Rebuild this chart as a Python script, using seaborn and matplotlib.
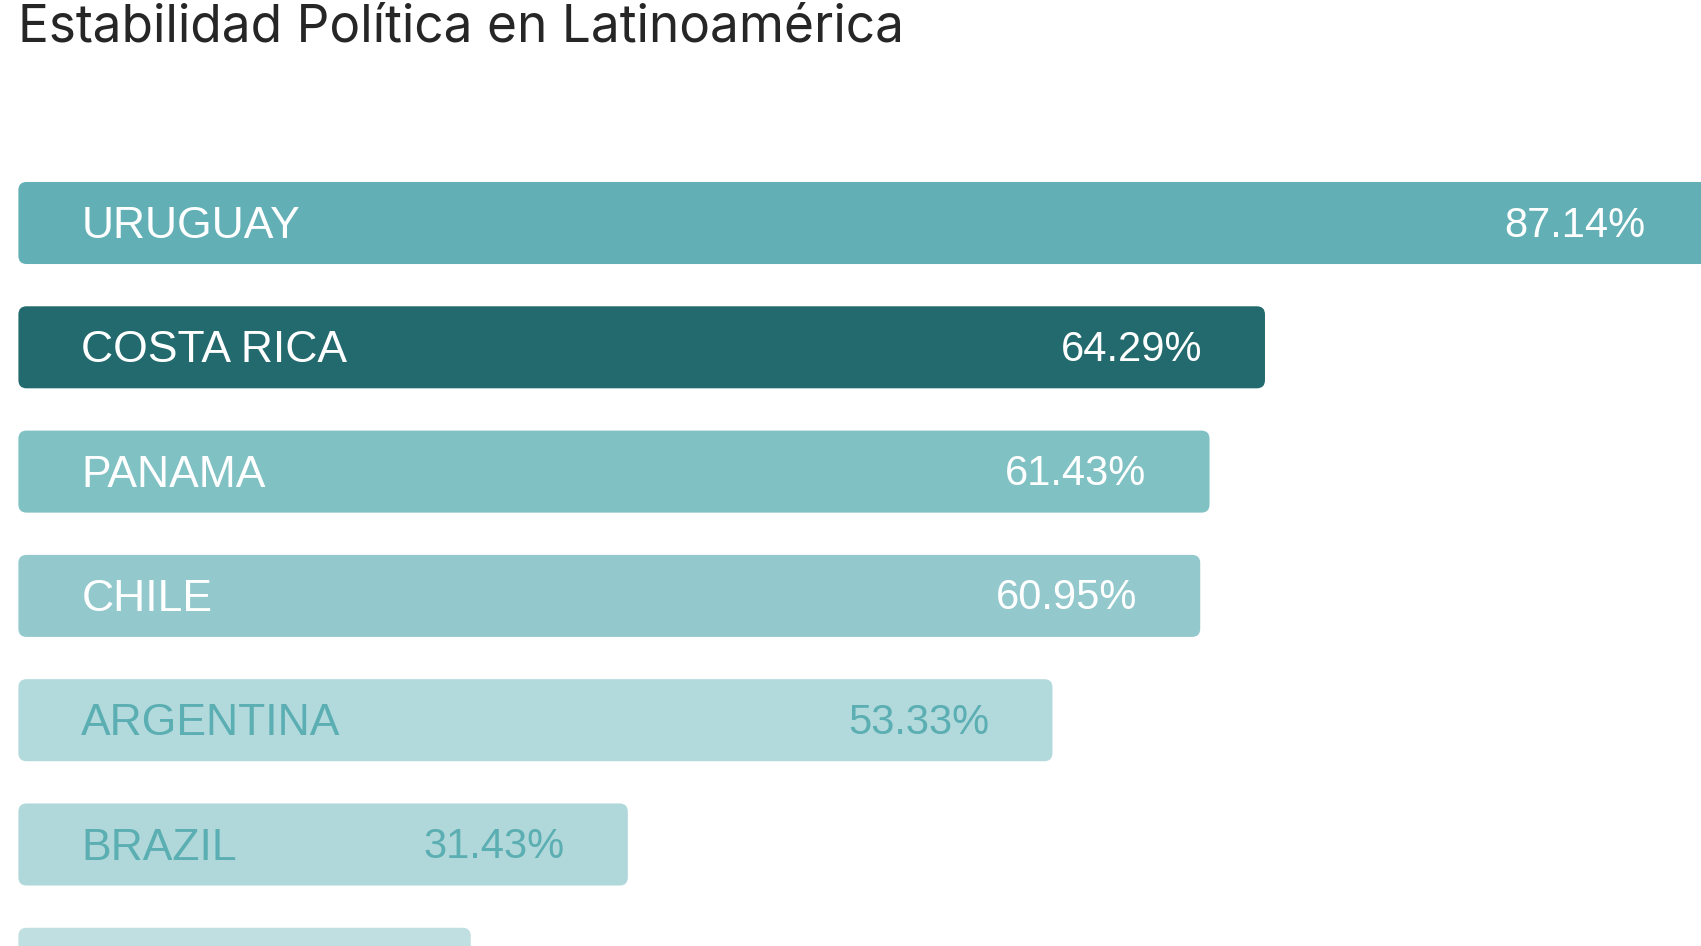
import matplotlib
matplotlib.use("Agg")
import matplotlib.pyplot as plt
import seaborn as sns
import pandas as pd
from matplotlib.patches import FancyBboxPatch

# ---- data ----
title = "Estabilidad Política en Latinoamérica"
countries = ["URUGUAY", "COSTA RICA", "PANAMA", "CHILE", "ARGENTINA", "BRAZIL", "PERU"]
values = [87.14, 64.29, 61.43, 60.95, 53.33, 31.43, 23.33]
bar_colors = ["#62B0B5", "#226A6D", "#80C1C3", "#93C9CC", "#B2DADD", "#B0D8DA", "#C0DFE1"]
text_colors = ["#FFFFFF", "#FFFFFF", "#FFFFFF", "#FFFFFF", "#5BAEB2", "#5BAEB2", "#5BAEB2"]

sns.set_theme(style="white")
plt.rcParams['font.family'] = ['Liberation Sans', 'DejaVu Sans']

df = pd.DataFrame({"country": countries, "value": values})

W, H = 1701, 946
fig = plt.figure(figsize=(W / 100, H / 100), dpi=100)
ax = fig.add_axes([0, 0, 1, 1])

sns.barplot(data=df, x="value", y="country", hue="country",
            palette=dict(zip(countries, bar_colors)), width=0.66,
            saturation=1, legend=False, orient="h", ax=ax)

# geometry (pixels -> data)
px_per_x = 19.39
x0_px = 18.4
pitch = 124.3
first_center_px = 223.0
ax.set_xlim(-x0_px / px_per_x, (W - x0_px) / px_per_x)
ax.set_ylim((H - first_center_px) / pitch, -first_center_px / pitch)
ax.axis("off")

# rounded bars
aspect = px_per_x / pitch
for p in list(ax.patches):
    x, y, w, h = p.get_x(), p.get_y(), p.get_width(), p.get_height()
    fc = p.get_facecolor()
    p.remove()
    ax.add_patch(FancyBboxPatch((x, y), w, h,
                                boxstyle="round,pad=0,rounding_size=0.42",
                                mutation_aspect=aspect, fc=fc, ec="none",
                                zorder=2))

pad = 63 / px_per_x
for i, (c, v, tc) in enumerate(zip(countries, values, text_colors)):
    if i >= 6:
        continue
    ax.text(pad, i + 15.0 / pitch, c, color=tc, fontsize=32,
            ha="left", va="baseline", zorder=3)
    ax.text(v - pad, i + 13.5 / pitch, f"{v:.2f}%", color=tc, fontsize=30,
            ha="right", va="baseline", zorder=3)

fig.text(18 / W, 1 - 41 / H, title, fontsize=37, color="#262626",
         family=["Inter", "DejaVu Sans"], ha="left", va="baseline")

fig.savefig("out.png", dpi=100)
